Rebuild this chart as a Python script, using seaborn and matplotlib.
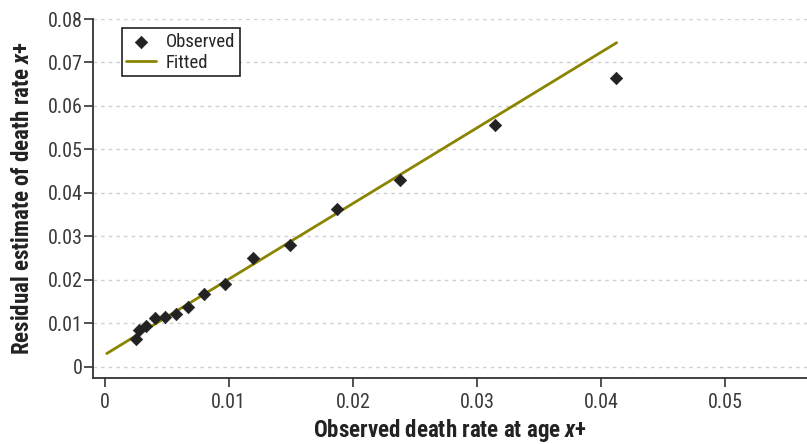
import matplotlib
matplotlib.use("Agg")
import matplotlib.pyplot as plt
from matplotlib import font_manager
import seaborn as sns
import pandas as pd

observed_x = [0.00249, 0.00276, 0.00335, 0.00402, 0.00488, 0.00570, 0.00672,
              0.00803, 0.00972, 0.01191, 0.01492, 0.01871, 0.02383, 0.03146, 0.04124]
observed_y = [0.00653, 0.00844, 0.00943, 0.01127, 0.01137, 0.01213, 0.01374,
              0.01680, 0.01910, 0.02501, 0.02807, 0.03629, 0.04296, 0.05555, 0.06636]
fitted_x = [0.00016, 0.04126]
fitted_y = [0.00308, 0.07455]
x_ticks = [0, 0.01, 0.02, 0.03, 0.04, 0.05]
x_tick_labels = ["0", "0.01", "0.02", "0.03", "0.04", "0.05"]
y_ticks = [0, 0.01, 0.02, 0.03, 0.04, 0.05, 0.06, 0.07, 0.08]
y_tick_labels = ["0", "0.01", "0.02", "0.03", "0.04", "0.05", "0.06", "0.07", "0.08"]

sns.set_style("white")
names = {f.name for f in font_manager.fontManager.ttflist}
fam = next((f for f in ["Liberation Sans Narrow", "Roboto Condensed", "Arial Narrow",
                        "Liberation Sans"] if f in names), "DejaVu Sans")
plt.rcParams["font.family"] = [fam, "DejaVu Sans"]
plt.rcParams["mathtext.fontset"] = "custom"
plt.rcParams["mathtext.it"] = f"{fam}:italic:bold"
plt.rcParams["mathtext.rm"] = f"{fam}:bold"

obs = pd.DataFrame({"x": observed_x, "y": observed_y})
fit = pd.DataFrame({"x": fitted_x, "y": fitted_y})

fig = plt.figure(figsize=(8.07, 4.44), dpi=100)
ax = fig.add_axes([93 / 807, 1 - 378 / 444, 1 - 93 / 807, (378 - 19) / 444])

olive = "#8a8400"
sns.lineplot(data=fit, x="x", y="y", ax=ax, color=olive, lw=2, label="Fitted", zorder=3)
sns.scatterplot(data=obs, x="x", y="y", ax=ax, marker="D", s=40, color="#222222",
                edgecolor="#222222", linewidth=0.5, label="Observed", zorder=4)

ax.set_xlim(-0.00095, 0.0566)
ax.set_ylim(-0.00255, 0.08)
ax.set_xticks(x_ticks)
ax.set_xticklabels(x_tick_labels)
ax.set_yticks(y_ticks)
ax.set_yticklabels(y_tick_labels)
ax.yaxis.grid(True, linestyle=(0, (2.5, 3)), color="#d0d0d0", lw=1)
ax.set_axisbelow(True)

for s in ["top", "right"]:
    ax.spines[s].set_visible(False)
for s in ["left", "bottom"]:
    ax.spines[s].set_color("#333333")
    ax.spines[s].set_linewidth(1.3)
ax.tick_params(axis="both", which="major", direction="out", length=6.5, width=1.2,
               color="#333333", labelsize=14.5, labelcolor="#3a3a3a", pad=1,
               left=True, bottom=True)
ax.tick_params(axis="x", pad=4)

ax.set_xlabel(r"Observed death rate at age $x$+", fontsize=16.5, fontweight="bold",
              color="#222222", labelpad=4)
ax.set_ylabel(r"Residual estimate of death rate $x$+", fontsize=16.5, fontweight="bold",
              color="#222222", labelpad=10)

handles, labels = ax.get_legend_handles_labels()
order = [labels.index("Observed"), labels.index("Fitted")]
leg = ax.legend([handles[i] for i in order], [labels[i] for i in order],
                loc="upper left", bbox_to_anchor=(0.035, 0.985), fontsize=13.5,
                frameon=True, fancybox=False, edgecolor="#222222", framealpha=1,
                handlelength=1.6, borderpad=0.25, labelspacing=0.15, handletextpad=0.5,
                borderaxespad=0.2)
leg.get_frame().set_linewidth(1.2)

fig.savefig("out.png", dpi=100)
